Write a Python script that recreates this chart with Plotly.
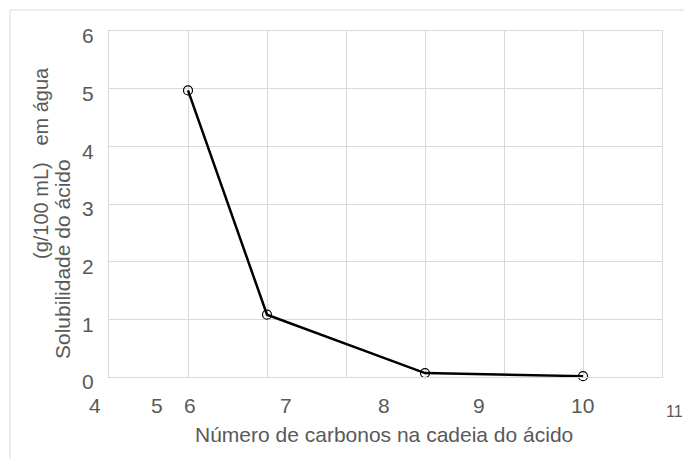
import plotly.graph_objects as go

# Data
carbons = [5, 6, 8, 10]
solubility = [4.97, 1.08, 0.068, 0.015]

x_tick_labels = ["4", "5", "6", "7", "8", "9", "10", "11"]
y_tick_values = [0, 1, 2, 3, 4, 5, 6]

x_title = "Número de carbonos na cadeia do ácido"
y_title_line1 = "(g/100 mL)   em água"
y_title_line2 = "Solubilidade do ácido"

X_MIN, X_MAX = 4, 11
# Layout constants: where the hand-placed tick labels sit (in axis units)
x_label_pos = [3.82, 4.61, 5.03, 6.24, 7.48, 8.68, 9.99, 11.16]
x_label_sizes = [21, 21, 21, 21, 21, 21, 21, 16]

W, H = 684, 459
L, R, T, B = 109, 22, 31, 82
pw, ph = W - L - R, H - T - B

TXT = "#595959"
GRID = "#d9d9d9"
FONT = "Liberation Sans, Arial, sans-serif"


def px_x(px):
    return (px - L) / pw


def px_y(py):
    return (H - B - py) / ph


fig = go.Figure()
fig.add_trace(go.Scatter(
    x=carbons, y=solubility, mode="lines+markers",
    line=dict(color="black", width=2.5),
    marker=dict(symbol="circle-open", size=9, color="black",
                line=dict(color="black", width=1.2)),
    showlegend=False, cliponaxis=False,
))

annotations = []
for lab, pos, sz in zip(x_tick_labels, x_label_pos, x_label_sizes):
    annotations.append(dict(
        x=(pos - X_MIN) / (X_MAX - X_MIN), xref="paper",
        y=px_y(405 if sz == 21 else 411), yref="paper",
        text=lab, showarrow=False, xanchor="center", yanchor="middle",
        font=dict(size=sz, color=TXT, family=FONT),
    ))

annotations.append(dict(
    x=px_x(384), xref="paper", y=px_y(434), yref="paper",
    text=x_title, showarrow=False, xanchor="center", yanchor="middle",
    font=dict(size=21, color=TXT, family=FONT),
))
annotations.append(dict(
    x=px_x(41), xref="paper", y=px_y(163), yref="paper",
    text=y_title_line1.replace(" ", "&nbsp;"), showarrow=False, textangle=-90,
    xanchor="center", yanchor="middle",
    font=dict(size=20, color=TXT, family=FONT),
))
annotations.append(dict(
    x=px_x(62), xref="paper", y=px_y(259), yref="paper",
    text=y_title_line2, showarrow=False, textangle=-90,
    xanchor="center", yanchor="middle",
    font=dict(size=21, color=TXT, family=FONT),
))

shapes = [
    dict(type="line", xref="paper", yref="paper",
         x0=px_x(10), x1=px_x(W + 5), y0=px_y(10), y1=px_y(10),
         line=dict(color=GRID, width=1)),
    dict(type="line", xref="paper", yref="paper",
         x0=px_x(10), x1=px_x(10), y0=px_y(10), y1=px_y(H + 5),
         line=dict(color=GRID, width=1)),
]

fig.update_layout(
    width=W, height=H,
    margin=dict(l=L, r=R, t=T, b=B, autoexpand=False),
    paper_bgcolor="white", plot_bgcolor="white",
    font=dict(family=FONT, color=TXT, size=21),
    annotations=annotations, shapes=shapes,
    xaxis=dict(range=[X_MIN, X_MAX], dtick=1, tick0=4, showticklabels=False,
               showgrid=True, gridcolor=GRID, gridwidth=1,
               zeroline=False, showline=True, linecolor=GRID, mirror=True,
               ticks="", fixedrange=True),
    yaxis=dict(range=[0, 6], tickvals=y_tick_values,
               ticktext=[str(v) for v in y_tick_values],
               showgrid=True, gridcolor=GRID, gridwidth=1,
               zeroline=False, showline=True, linecolor=GRID, mirror=True,
               ticks="", ticklabelstandoff=10, ticklabelshift=5,
               tickfont=dict(size=21, color=TXT, family=FONT),
               fixedrange=True),
)

fig.write_html(
    "out.html",
    config={"displayModeBar": False, "staticPlot": True},
    post_script="document.body.style.margin='0px';document.body.style.overflow='hidden';",
)
